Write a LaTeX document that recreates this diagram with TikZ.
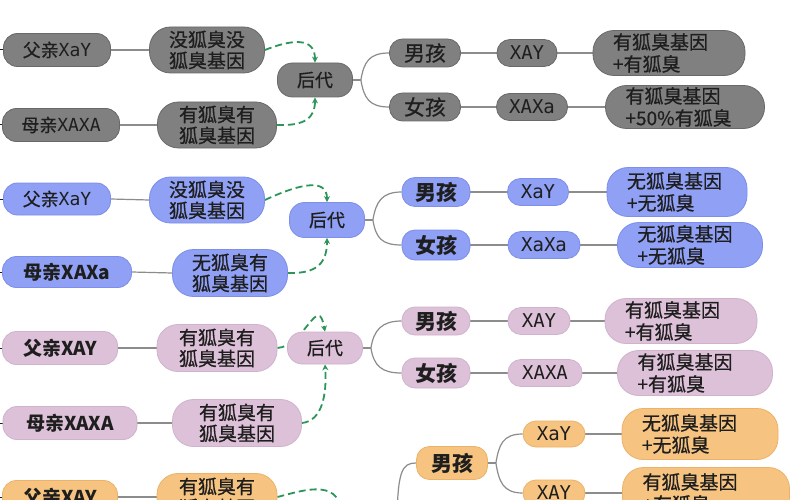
\documentclass[tikz,border=0pt]{standalone}
\usepackage{fontspec}
\newfontfamily\cjk{Noto Sans CJK SC}
\newfontfamily\cjkm{Noto Sans CJK SC}[FakeBold=0.6]
\newfontfamily\gmono{DejaVu Sans Mono}
\usetikzlibrary{calc,arrows.meta}
\pgfdeclarelayer{bg}
\pgfsetlayers{bg,main}
\definecolor{gfill}{RGB}{128,128,128}
\definecolor{gdraw}{RGB}{105,105,105}
\definecolor{bfill}{RGB}{143,160,245}
\definecolor{bdraw}{RGB}{125,142,235}
\definecolor{pfill}{RGB}{221,193,216}
\definecolor{pdraw}{RGB}{208,178,204}
\definecolor{ofill}{RGB}{246,196,128}
\definecolor{odraw}{RGB}{236,178,105}
\definecolor{txt}{RGB}{30,30,30}
\definecolor{lnc}{RGB}{140,140,140}
\definecolor{grn}{RGB}{44,150,90}
\begin{document}
\begin{tikzpicture}[x=1pt,y=-1pt,
  base/.style={draw, line width=0.8pt, inner sep=0pt, text=txt},
  lbox/.style={base, rounded corners=14pt, minimum height=33pt, font=\cjkm\fontsize{18}{20}\selectfont},
  lboxb/.style={lbox, font=\cjk\bfseries\fontsize{19}{21}\selectfont},
  mbox/.style={base, rounded corners=21pt, minimum height=46pt, align=center, font=\cjkm\fontsize{19}{21}\selectfont},
  hbox/.style={base, rounded corners=15pt, minimum width=75pt, minimum height=34pt, font=\cjkm\fontsize{18}{20}\selectfont},
  kbox/.style={base, rounded corners=13pt, minimum height=28pt, font=\cjkm\fontsize{21}{23}\selectfont},
  kboxb/.style={kbox, font=\cjk\bfseries\fontsize{21}{23}\selectfont},
  gbox/.style={base, rounded corners=13pt, minimum height=27pt, font=\gmono\fontsize{19}{21}\selectfont},
  rbox/.style={base, rounded corners=21pt, minimum height=45pt, inner xsep=20pt, align=left, font=\cjkm\fontsize{19}{22}\selectfont},
  cg/.style={fill=gfill, draw=gdraw},
  cb/.style={fill=bfill, draw=bdraw},
  cp/.style={fill=pfill, draw=pdraw},
  co/.style={fill=ofill, draw=odraw},
  conn/.style={draw=lnc, line width=1.2pt},
  stub/.style={draw=txt, line width=1pt},
  dar/.style={draw=grn, line width=1.8pt, dash pattern=on 7pt off 4pt, -{Stealth[length=6pt,width=6pt]}}
]
\useasboundingbox (0,0) rectangle (800,500);

% ---- gray section
\node[lbox,cg,minimum width=107pt] (fA1) at (57,50) {父亲{\gmono XaY}};
\node[mbox,cg,minimum width=115pt] (mA1) at (207,50) {没狐臭没\\狐臭基因};
\node[lbox,cg,minimum width=117pt] (fA2) at (61,125) {母亲{\gmono XAXA}};
\node[mbox,cg,minimum width=119pt] (mA2) at (217,125) {有狐臭有\\狐臭基因};
\node[hbox,cg] (hA) at (315,80) {后代};
\node[kbox,cg,minimum width=71pt] (bA) at (425,53) {男孩};
\node[gbox,cg,minimum width=60pt] (xA1) at (527,53) {XAY};
\node[rbox,cg,text width=112pt] (rA1) at (669,53) {有狐臭基因\\+有狐臭};
\node[kbox,cg,minimum width=71pt] (gA) at (425,107) {女孩};
\node[gbox,cg,minimum width=71pt] (xA2) at (532,107) {XAXa};
\node[rbox,cg,text width=119pt,minimum height=43pt] (rA2) at (685,107) {有狐臭基因\\+50\%有狐臭};

% ---- blue section
\node[lbox,cb,minimum width=107pt,minimum height=32pt] (fB1) at (57,199) {父亲{\gmono XaY}};
\node[mbox,cb,minimum width=115pt] (mB1) at (207,200) {没狐臭没\\狐臭基因};
\node[lboxb,cb,minimum width=129pt,minimum height=31pt] (fB2) at (67,272) {母亲XAXa};
\node[mbox,cb,minimum width=115pt,minimum height=47pt] (mB2) at (230,273) {无狐臭有\\狐臭基因};
\node[hbox,cb,minimum height=35pt] (hB) at (327,220) {后代};
\node[kboxb,cb,minimum width=68pt,minimum height=29pt] (bB) at (436,192) {男孩};
\node[gbox,cb,minimum width=61pt] (xB1) at (538,192) {XaY};
\node[rbox,cb,text width=100pt,minimum height=49pt] (rB1) at (677,192) {无狐臭基因\\+无狐臭};
\node[kboxb,cb,minimum width=68pt,minimum height=30pt] (gB) at (436,245) {女孩};
\node[gbox,cb,minimum width=72pt] (xB2) at (544,245) {XaXa};
\node[rbox,cb,text width=105pt] (rB2) at (690,245) {无狐臭基因\\+无狐臭};

% ---- pink section
\node[lboxb,cp,minimum width=115pt] (fC1) at (60,348) {父亲XAY};
\node[mbox,cp,minimum width=120pt,minimum height=47pt] (mC1) at (217,348) {有狐臭有\\狐臭基因};
\node[hbox,cp,minimum height=32pt] (hC) at (325,348) {后代};
\node[lboxb,cp,minimum width=134pt] (fC2) at (70,423) {母亲XAXA};
\node[mbox,cp,minimum width=129pt,minimum height=47pt] (mC2) at (237,423) {有狐臭有\\狐臭基因};
\node[kboxb,cp,minimum width=68pt] (bC) at (436,321) {男孩};
\node[gbox,cp,minimum width=62pt] (xC1) at (539,321) {XAY};
\node[rbox,cp,text width=112pt] (rC1) at (681,321) {有狐臭基因\\+有狐臭};
\node[kboxb,cp,minimum width=68pt,minimum height=30pt] (gC) at (436,373) {女孩};
\node[gbox,cp,minimum width=74pt] (xC2) at (545,373) {XAXA};
\node[rbox,cp,text width=115pt] (rC2) at (695,373) {有狐臭基因\\+有狐臭};

% ---- orange section
\node[lboxb,co,minimum width=115pt] (fD1) at (60,497) {父亲XAY};
\node[mbox,co,minimum width=120pt,minimum height=47pt] (mD1) at (217,497) {有狐臭有\\狐臭基因};
\node[kboxb,co,minimum width=71pt,minimum height=33pt] (bD) at (452,463) {男孩};
\node[gbox,co,minimum width=62pt,minimum height=26pt] (xD1) at (554,434) {XaY};
\node[rbox,co,text width=116pt,minimum height=51pt] (rD1) at (700,434) {无狐臭基因\\+无狐臭};
\node[gbox,co,minimum width=62pt,minimum height=26pt] (xD2) at (554,493) {XAY};
\node[rbox,co,text width=127pt,minimum height=51pt] (rD2) at (706,493) {有狐臭基因\\+有狐臭};
\coordinate (tD) at (343,525);
\coordinate (oD) at (397,530);

\begin{pgfonlayer}{bg}
\fill[white] (0,0) rectangle (800,500);
% left stubs
\foreach \n in {fA1,fA2,fB1,fB2,fC1,fC2,fD1}
  \draw[stub] (\n.west) -- ++(-6,0);
% straight connectors
\foreach \a/\b in {fA1/mA1,fA2/mA2,bA/xA1,xA1/rA1,gA/xA2,xA2/rA2,
                   fB1/mB1,fB2/mB2,bB/xB1,xB1/rB1,gB/xB2,xB2/rB2,
                   fC1/mC1,fC2/mC2,bC/xC1,xC1/rC1,gC/xC2,xC2/rC2,
                   fD1/mD1,xD1/rD1,xD2/rD2}
  \draw[conn] (\a.east) -- (\b.west);
% braces
\draw[conn] (hA.east) -- ++(8,0) coordinate (jA);
\draw[conn] (jA) .. controls ($(jA)+(3,-18)$) and ($(bA.west)+(-20,0)$) .. (bA.west);
\draw[conn] (jA) .. controls ($(jA)+(3,18)$) and ($(gA.west)+(-20,0)$) .. (gA.west);
\draw[conn] (hB.east) -- ++(8,0) coordinate (jB);
\draw[conn] (jB) .. controls ($(jB)+(3,-18)$) and ($(bB.west)+(-20,0)$) .. (bB.west);
\draw[conn] (jB) .. controls ($(jB)+(3,18)$) and ($(gB.west)+(-20,0)$) .. (gB.west);
\draw[conn] (hC.east) -- ++(8,0) coordinate (jC);
\draw[conn] (jC) .. controls ($(jC)+(3,-18)$) and ($(bC.west)+(-20,0)$) .. (bC.west);
\draw[conn] (jC) .. controls ($(jC)+(3,18)$) and ($(gC.west)+(-20,0)$) .. (gC.west);
\draw[conn] (bD.east) -- ++(8,0) coordinate (jD);
\draw[conn] (jD) .. controls ($(jD)+(3,-18)$) and ($(xD1.west)+(-20,0)$) .. (xD1.west);
\draw[conn] (jD) .. controls ($(jD)+(3,18)$) and ($(xD2.west)+(-20,0)$) .. (xD2.west);
\draw[conn] (oD) .. controls (397,470) and (402,463) .. (bD.west);
% dashed green arrows
\draw[dar] (mA1.east) .. controls (290,40) and (315,36) .. (hA.north);
\draw[dar] (mA2.east) .. controls (305,126) and (315,118) .. (hA.south);
\draw[dar] (mB1.east) .. controls (295,186) and (327,176) .. (hB.north);
\draw[dar] (mB2.east) .. controls (318,274) and (327,262) .. (hB.south);
\draw[dar] (mC1.east) .. controls (305,346) and (318,292) .. (hC.north);
\draw[dar] (mC2.east) .. controls (322,421) and (327,395) .. (hC.south);
\draw[dar] (mD1.east) .. controls (305,490) and (343,476) .. (tD);
\end{pgfonlayer}
\end{tikzpicture}
\end{document}
